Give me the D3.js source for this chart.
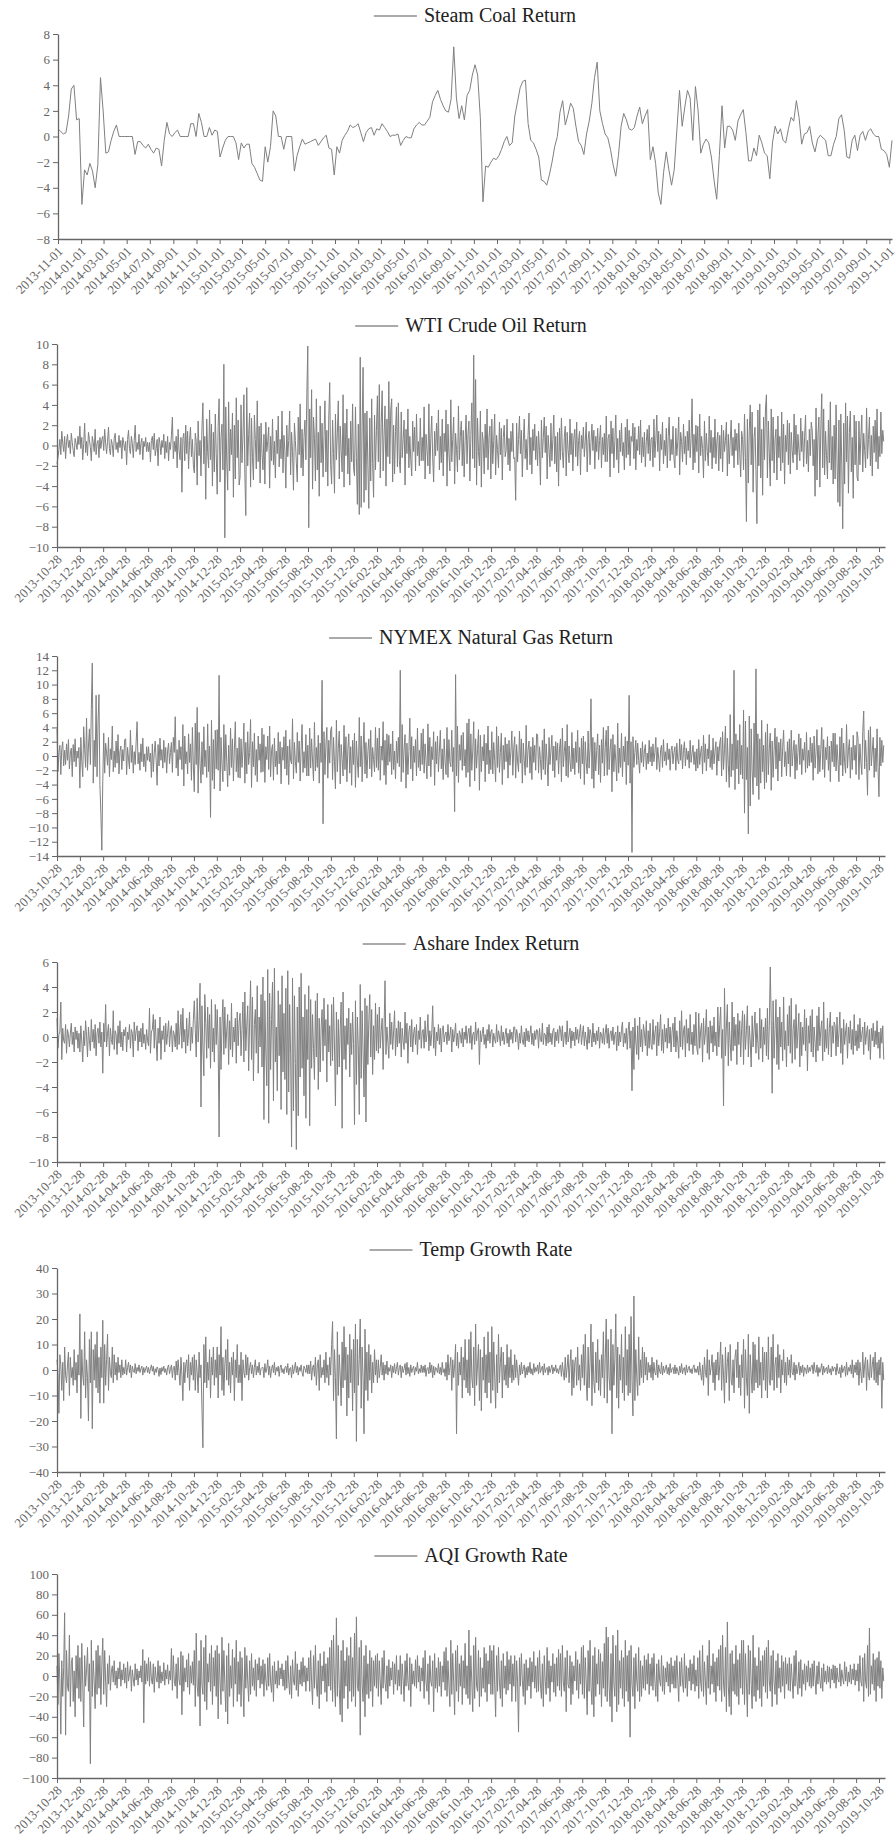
<!DOCTYPE html>
<html>
<head>
<meta charset="utf-8">
<script src="https://cdn.jsdelivr.net/npm/d3@7"></script>
<style>
  body { margin: 0; background: #fff; }
  text { font-family: "Liberation Serif", "Times New Roman", serif; }
</style>
</head>
<body>
<script>
// ---- data ----
var titles = ["Steam Coal Return", "WTI Crude Oil Return", "NYMEX Natural Gas Return",
  "Ashare Index Return", "Temp Growth Rate", "AQI Growth Rate"];
var yMins = [-8, -10, -14, -10, -40, -100];
var yMaxs = [8, 10, 14, 6, 40, 100];
var ySteps = [2, 2, 2, 2, 10, 20];

// weekly, from 2013-11-01
var coalValues = [
  0.6,0.4,0.2,0.3,1.6,3.7,4.0,1.3,1.4,-5.3,
  -2.6,-3.0,-2.1,-2.7,-4.0,-2.2,4.6,2.0,-1.3,-1.2,
  -0.3,0.4,0.9,0,0,0,0,0,0,-1.4,
  -0.4,-0.4,-0.7,-0.9,-0.6,-1.0,-1.3,-0.9,-1.0,-2.3,
  -0.3,1.1,0.2,0,0.3,0.5,0,0,0,0,
  1.0,1.0,0,1.8,1.1,0,0,0.7,0.1,0.5,
  0.4,-1.6,-0.9,-0.3,0,0,0,-0.5,-1.8,-0.5,
  -0.9,-0.6,-0.6,-2.1,-2.4,-2.9,-3.4,-3.5,-0.8,-2.0,
  -0.8,2.0,1.6,0,0,-1.0,0,0,0,-2.7,
  -1.5,-0.8,-0.2,-0.6,-0.5,-0.4,-0.3,-0.2,-0.7,-0.4,
  -0.1,0.1,-0.9,-1.0,-3.0,-0.8,-1.3,-0.3,0.1,0.4,
  0.9,0.7,0.8,1.0,0.3,-0.4,0.3,0.6,0.7,0.1,
  0.6,0.5,1.0,0.7,0.4,0,0.1,0.1,0.2,-0.7,
  -0.3,0,-0.1,-0.1,0.6,0.9,1.1,0.9,0.9,1.2,
  1.5,2.7,3.2,3.6,2.9,2.4,2.0,1.9,2.9,7.0,
  3.0,1.4,2.4,1.3,3.2,3.6,4.8,5.6,4.8,1.5,
  -5.1,-2.3,-2.4,-2.0,-1.7,-1.8,-1.5,-1.0,-0.4,0,
  -0.7,-0.5,1.6,2.7,3.8,4.3,4.4,1.0,-0.3,-0.5,
  -1.0,-1.6,-3.4,-3.5,-3.8,-3.0,-2.0,-0.8,0,1.9,
  2.8,0.9,1.7,2.6,2.2,0.8,-0.4,-0.7,-1.4,0.2,
  1.2,2.6,4.6,5.8,2.0,1.0,0.2,-0.1,-1.0,-2.2,
  -3.1,-1.5,0.8,1.8,1.3,0.6,0.5,0.7,1.6,2.3,
  1.0,1.6,2.1,-1.8,-0.8,-2.1,-4.4,-5.3,-2.8,-1.2,
  -2.6,-3.8,-2.6,0.5,3.6,0.8,2.3,3.6,3.0,-0.3,
  3.9,2.0,-1.3,-0.6,-0.2,-0.5,-1.6,-3.4,-4.9,-1.5,
  2.4,-0.9,0.8,0.8,0.5,-0.3,1.2,1.7,2.1,0.3,
  -1.9,-1.9,-0.9,-1.5,0.1,-0.5,-1.3,-1.5,-3.3,-0.5,
  0.8,0.2,0.6,-0.3,-0.5,0.6,1.5,1.2,2.8,1.5,
  -0.6,0.2,0.3,0.8,-0.5,-1.2,-0.2,0.1,-0.1,-0.3,
  -1.5,-1.5,-0.6,0,1.4,1.7,0.5,-1.6,-1.7,-0.3,
  0.1,-1.1,0.1,0.4,-0.3,0.4,0.6,0.2,0,0,
  -1.0,-1.1,-1.4,-2.4,-0.3
];

// sampled every ~2.5 days from 2013-10-28, one row per two-month tick interval
var wtiValues = [
  -1.8,-1.2,-0.4,0.6,-0.9,1.4,0.2,-0.6,0.9,-1.3,0.4,1.1,-0.2,0.5,-0.8,1.2,0.3,-0.5,-1.1,0.7,0.2,-0.4,0.9,0.1,
  1.9,-0.3,0.8,-1.4,0.2,2.2,-0.7,0.4,-1.0,1.3,0.6,-0.2,-1.5,0.9,0.3,-0.6,1.6,-0.9,0.2,0.5,-1.2,0.8,-0.3,0.6,
  0.9,-0.5,1.6,0.2,-0.8,0.4,1.8,-0.3,-0.9,0.6,0.1,-1.1,0.7,1.2,-0.4,0.3,-0.7,1.0,-0.2,0.5,-1.3,0.8,0.2,-0.5,
  0.4,-1.9,0.6,1.5,-0.3,-0.8,0.9,0.2,-1.2,0.5,2.0,-0.6,0.3,-0.4,1.1,-0.9,0.2,0.7,-1.4,0.4,-0.1,0.8,-0.6,0.3,
  -0.6,0.3,-1.6,0.5,0.9,-0.4,1.2,-1.0,-0.3,0.6,-2.0,0.8,0.2,-0.9,0.5,-0.2,1.1,-1.3,0.4,-0.7,0.9,-1.5,0.3,-0.4,
  1.0,2.8,-1.3,0.4,-0.6,0.9,-2.2,1.6,-0.5,-1.4,0.8,-4.6,0.7,1.2,-1.5,2.0,-0.8,1.4,-2.3,0.5,1.8,-1.1,0.6,-1.9,
  -2.7,1.2,0.4,-3.9,2.4,-1.0,0.5,-3.0,1.7,4.2,-1.8,0.9,-5.3,2.6,-0.7,-2.2,3.5,-1.4,2.1,-4.0,1.3,-2.6,3.1,-0.8,
  -4.8,1.9,4.6,-3.6,0.8,2.1,-2.4,8.0,-9.1,3.8,-1.5,-4.4,4.3,-2.5,1.6,-0.9,3.2,-5.1,2.0,-3.3,4.7,-1.2,2.5,-3.9,
  -3.1,4.0,-1.7,0.9,5.0,-2.8,-6.9,5.7,-2.0,1.1,3.2,-4.1,2.7,-1.2,-3.4,3.0,0.6,-2.3,4.4,-1.6,1.9,-3.7,2.2,-0.8,
  -2.4,1.1,-3.8,2.3,-0.6,0.4,1.8,-4.2,0.9,-1.5,2.6,-1.9,0.4,-3.2,1.5,-0.8,2.9,-2.1,0.6,-1.3,3.4,-2.7,1.0,-0.5,
  -4.2,2.0,-1.1,0.5,3.4,-2.9,1.3,-0.6,-4.4,2.2,0.5,-1.7,-3.6,2.8,-0.9,4.1,-2.2,1.6,-3.0,0.8,2.5,-1.4,5.0,9.8,
  -8.1,3.6,-1.2,5.5,-4.3,2.8,0.7,-3.5,4.6,-2.4,1.3,-5.0,3.9,-1.7,2.2,-3.1,0.9,4.4,-2.6,1.5,-4.0,2.7,6.2,-1.9,
  -3.8,2.5,-0.8,-4.7,3.1,-1.4,1.2,4.4,-3.3,1.9,-0.5,-2.6,5.0,-4.1,2.2,-1.0,3.6,-2.8,0.7,-3.9,2.4,-1.6,4.1,-2.2,
  -3.0,3.8,-1.2,-5.8,2.1,-6.8,8.7,-6.1,1.9,7.7,-5.6,3.2,-4.4,3.4,-2.0,-6.2,2.7,-3.5,4.6,-1.8,-5.1,3.0,-2.4,1.5,
  4.9,-1.6,6.0,-3.2,2.2,5.4,-2.5,1.0,3.9,-4.0,2.6,-1.1,6.3,-1.8,3.5,4.6,-3.6,2.0,-2.8,1.4,3.8,-2.1,4.2,-1.5,
  -2.7,3.3,-1.2,0.6,2.5,-3.9,1.6,-0.8,3.6,-2.2,0.9,-1.4,-3.0,2.4,-0.6,1.8,-2.5,3.1,-1.0,0.4,-2.0,2.7,-1.5,0.8,
  -1.5,3.8,-3.3,1.1,-0.4,-2.0,4.1,-2.8,0.7,2.9,-1.2,-3.6,1.4,-1.0,2.2,-0.5,3.5,-2.4,0.9,-1.7,2.6,-3.0,1.2,-0.6,
  3.5,-4.0,2.1,-0.8,-2.5,4.5,-1.6,0.6,2.8,-3.8,1.2,-0.4,-2.6,3.9,-1.4,0.9,2.4,-2.0,1.5,-3.1,0.5,3.0,-1.8,1.1,
  2.4,-3.5,1.0,4.2,-1.3,8.9,-2.2,6.5,-3.9,2.7,-0.6,-2.0,3.4,-4.1,1.3,0.4,-2.8,2.1,-1.2,3.6,-2.4,0.8,1.9,-3.3,
  2.6,-1.8,0.5,3.1,-2.9,1.0,-0.4,-2.2,2.3,-0.9,1.7,-3.4,0.8,2.0,-1.1,-0.5,2.6,-1.9,0.7,-2.5,1.4,-0.6,2.2,-1.3,
  -1.2,-5.4,2.2,-1.6,0.6,2.9,-0.8,1.5,-3.1,0.4,2.6,-1.3,0.6,-2.4,1.0,3.2,-1.9,0.8,-2.8,1.6,-0.5,2.1,-1.4,0.9,
  -2.0,1.4,-0.5,-3.9,2.5,-1.2,0.8,2.8,-0.7,1.9,-3.3,1.0,-0.4,-2.1,2.2,-1.5,0.6,3.0,-1.8,0.9,-2.6,1.3,-4.0,1.7,
  -1.4,2.7,-0.6,-2.2,0.8,1.9,-3.0,1.3,-0.4,-1.7,2.6,-0.9,1.2,-2.5,0.7,1.6,-1.1,2.3,-2.0,0.5,1.4,-2.9,1.0,-0.3,
  1.8,-1.1,0.4,2.3,-2.6,0.6,1.4,-1.9,0.3,2.1,-0.5,1.5,-2.3,0.9,-0.6,1.7,-1.4,0.5,2.0,-2.2,0.8,-0.9,1.2,-1.6,
  2.9,-1.6,0.7,1.1,-3.1,2.4,-0.8,1.7,-2.2,0.5,3.0,-1.4,0.7,-2.7,1.5,-0.6,2.2,-1.0,0.3,-2.4,1.8,-1.2,2.6,-0.9,
  1.5,-2.0,0.9,0.4,2.2,-1.3,1.8,-2.4,0.6,-0.5,1.9,-0.9,2.5,-1.7,0.8,-1.1,1.3,-2.1,0.4,1.6,-0.8,2.0,-1.5,0.6,
  0.8,-2.1,2.6,-1.2,0.5,3.0,-0.6,1.4,-2.5,1.1,-0.4,2.3,-1.8,0.5,-1.0,1.7,-2.2,0.9,2.8,-1.5,0.6,-0.9,1.9,-1.3,
  -2.2,1.7,-1.0,0.4,2.8,-2.9,1.3,0.4,-1.6,2.1,-0.8,0.9,-1.9,1.4,-0.5,2.5,-1.2,0.7,4.6,-2.4,1.1,-1.7,2.0,-0.6,
  1.9,-2.7,3.1,-1.0,0.9,-0.3,-3.2,2.4,-1.5,1.2,-0.6,-2.0,2.9,-0.7,1.5,-2.3,0.8,-1.2,2.6,-1.8,0.4,1.3,-2.5,1.0,
  -1.3,2.0,-2.6,1.5,-0.6,0.5,2.3,-3.0,1.1,-1.8,0.4,2.5,-1.0,0.8,-2.2,1.6,-0.5,1.2,-1.9,2.2,-0.8,-3.1,1.4,0.6,
  -2.4,3.1,-1.2,-7.5,2.6,-3.7,1.5,4.0,-1.9,3.3,-4.6,0.8,1.8,-2.5,-7.7,3.5,-2.0,4.1,-3.2,1.6,-4.9,2.8,-1.4,3.7,
  5.0,-3.2,2.4,-0.7,-4.0,3.6,-1.5,2.8,-2.7,0.6,1.6,-3.4,2.9,-1.2,0.9,-2.5,3.3,-1.7,2.1,-3.8,1.0,-0.6,2.5,-1.9,
  2.2,-2.8,1.3,-0.5,-1.7,3.1,-0.9,2.0,-2.4,1.1,-0.4,-1.5,2.7,-0.6,1.4,-2.1,0.8,3.0,-1.8,0.5,-2.6,1.6,-1.0,2.3,
  1.5,-2.0,0.6,-5.0,3.7,-3.4,1.1,2.8,-4.1,1.6,5.1,-2.2,3.6,-2.9,1.4,-1.0,-3.3,2.5,-1.7,4.3,-2.4,0.9,-3.8,2.0,
  -3.3,4.0,-1.5,-5.6,2.5,-6.0,3.1,-2.0,-8.2,2.2,-3.8,4.2,-1.6,2.9,-4.7,1.3,3.4,-2.6,0.8,-5.2,3.0,-1.9,2.4,-3.1,
  -3.5,2.4,-1.9,0.8,3.0,-2.6,1.2,-0.5,-2.2,3.7,-1.3,0.6,2.8,-2.0,1.0,-3.0,1.9,-0.7,2.5,-1.6,3.6,-2.3,0.9,-1.1,
  3.3,-0.8,1.5,0.4
];

var gasValues = [
  3.8,-2.2,0.5,1.5,-2.6,1.0,2.0,-1.4,0.8,-1.2,1.7,-0.6,2.3,-1.8,0.4,1.1,-2.9,1.6,-0.8,2.4,-1.5,0.7,-0.3,1.2,
  -4.5,2.6,-0.8,-2.9,4.1,0.9,-1.6,5.3,-2.0,1.4,3.8,-1.2,6.5,13.0,-3.8,2.2,-1.5,8.5,-2.9,4.6,8.6,-4.0,-8.0,-13.2,
  -3.6,3.2,-2.4,1.8,0.4,-1.3,2.6,-2.9,1.0,-0.5,4.2,-2.2,0.7,-1.6,2.1,-1.0,3.0,-2.5,0.6,1.4,-1.9,0.9,-0.7,2.3,
  2.4,-2.6,1.2,-0.4,-1.8,3.6,-0.9,1.5,-2.4,0.6,-1.2,2.0,4.8,-1.1,0.5,-2.0,1.7,-0.8,2.5,-1.5,0.3,-2.2,1.3,-0.6,
  1.3,-0.8,0.4,-3.0,1.7,-2.2,0.4,2.1,-0.6,-4.1,1.6,-1.4,2.5,-0.6,0.9,-1.7,2.2,-0.9,1.2,-2.4,0.7,1.8,-1.1,0.5,
  1.9,-2.3,2.6,0.5,5.5,-1.7,0.9,-2.8,2.2,-0.5,1.3,-1.9,4.4,-4.2,2.8,-1.1,0.6,-2.5,3.1,-0.9,1.7,-3.4,4.0,-1.4,
  -5.0,4.6,-1.2,6.8,-5.2,3.3,-1.0,-3.8,2.0,-2.6,4.1,-1.5,0.8,-3.0,4.5,-2.2,1.4,-8.6,5.0,-3.4,2.3,-4.6,3.6,-1.8,
  3.7,-2.0,11.3,-4.9,2.6,-1.2,-3.6,4.4,-2.1,3.0,-0.8,-4.3,1.5,-2.7,3.9,-1.6,2.4,-3.5,0.9,4.8,-2.2,1.1,-3.0,2.6,
  -3.1,2.4,-1.6,0.7,4.6,-3.8,1.9,-2.5,3.4,-1.2,0.5,5.1,-4.4,2.0,-1.5,3.2,-2.7,0.9,-3.6,2.8,-0.6,1.7,-2.3,3.9,
  -2.2,3.0,-3.7,1.3,-0.5,2.8,-1.9,4.2,-2.9,0.8,1.6,-3.4,2.5,-1.5,0.7,-2.6,3.3,-1.1,2.0,-3.9,1.2,-0.6,2.7,-1.8,
  3.6,-2.7,1.4,-4.0,2.3,-0.6,-1.1,5.2,-3.2,1.9,-0.8,-2.4,3.3,-0.9,2.1,-3.5,1.0,4.4,-2.3,0.6,-1.7,3.0,-2.8,1.5,
  -2.8,3.9,-1.7,2.4,-0.7,-3.5,4.7,-2.1,1.2,-1.6,2.9,-3.8,1.8,-0.9,10.6,-9.5,3.4,-2.6,1.5,4.0,-3.1,2.2,-1.0,3.6,
  4.1,-3.3,2.6,-0.8,-4.6,5.0,-2.2,1.1,3.5,-3.9,1.6,-0.5,-2.8,4.3,-1.9,2.7,-3.6,0.9,3.1,-2.4,1.3,-4.1,2.2,-1.2,
  3.2,-4.4,2.1,-0.7,-3.0,5.4,-1.5,2.8,-3.6,0.8,4.7,-2.5,1.9,-3.1,0.6,2.4,-1.8,3.6,-2.9,1.2,-0.5,-2.2,4.0,-1.6,
  2.5,-2.0,3.9,-3.4,1.4,-0.6,4.8,-2.7,2.2,-4.0,3.1,-1.3,2.9,-0.8,1.7,-2.6,3.5,-1.9,0.7,-3.2,2.1,-1.0,2.6,-1.5,
  12.0,-3.6,4.4,-2.3,1.0,3.0,-4.5,1.8,-2.6,0.6,5.3,-1.8,2.7,-3.5,1.4,-0.9,2.3,-2.8,3.9,-1.6,0.8,-2.1,3.2,-1.2,
  3.8,-2.4,1.7,-0.6,-3.2,4.5,-1.4,2.6,-2.9,1.3,-0.5,3.4,-4.1,2.0,-1.1,2.8,-2.2,0.7,3.6,-1.8,1.0,-3.3,2.4,-0.8,
  -2.6,4.0,-3.0,2.3,-0.8,-1.5,3.6,-2.2,1.2,-7.8,11.4,-2.8,4.2,-3.7,1.6,-0.6,2.9,-2.0,3.3,-1.4,0.9,-3.0,4.6,-2.3,
  5.2,-4.3,3.1,-2.0,0.7,4.8,-3.5,2.4,-1.7,0.9,3.7,-4.8,2.9,-2.2,1.3,-0.7,3.0,-3.6,1.8,-1.2,4.2,-2.5,0.8,-1.9,
  3.4,-2.5,1.9,-0.6,-3.6,4.1,-1.6,2.8,-2.3,0.5,3.2,-4.0,1.5,-1.9,2.6,-0.8,1.7,-3.1,2.2,-1.3,0.6,3.5,-2.7,1.1,
  2.7,-3.1,1.6,-0.7,-2.2,3.5,-1.0,2.4,-3.8,1.8,-0.6,-2.7,4.3,-1.6,0.8,2.1,-2.4,1.3,-3.3,2.6,-0.9,1.5,-2.0,3.1,
  3.0,-2.4,1.3,-0.5,-3.3,2.2,-1.9,3.8,-2.6,1.7,-0.8,-4.2,2.6,-1.2,0.7,2.9,-2.1,1.4,-3.0,2.0,-0.6,1.8,-2.5,1.0,
  2.4,-3.6,3.9,-1.5,0.6,2.1,-2.8,4.4,-3.0,1.4,-0.7,-2.2,3.3,-1.8,1.1,-2.6,2.0,-0.9,3.6,-2.4,1.2,-3.2,2.5,-1.1,
  2.8,-4.0,2.0,-0.9,-2.5,3.5,-1.7,1.0,8.0,-3.2,2.6,-4.5,1.9,-2.1,0.8,3.1,-2.6,1.5,-3.7,2.3,-1.0,4.0,-2.8,1.2,
  3.6,-2.7,4.2,-1.9,0.8,2.4,-5.0,3.0,-2.2,1.6,-0.7,-3.5,4.6,-2.4,1.1,-1.6,3.2,-2.9,1.4,-0.8,2.7,-4.0,2.1,-1.3,
  8.5,-3.8,2.0,-13.5,2.7,-1.6,0.5,2.2,-1.2,1.8,-0.6,-2.4,1.1,-0.9,2.0,-1.5,0.7,1.6,-1.9,0.4,-1.1,2.2,-0.8,1.3,
  -1.4,1.7,-0.8,0.5,2.6,-1.9,1.2,-0.4,-2.2,0.9,1.5,-1.6,2.3,-0.7,0.6,-1.3,1.8,-0.5,1.0,-2.0,0.8,1.4,-1.1,0.5,
  1.3,-2.0,1.8,-0.6,-1.1,2.4,-0.6,1.6,-1.8,0.8,2.0,-1.4,1.1,-0.5,0.7,-1.7,2.2,-0.9,0.4,1.5,-1.2,0.6,-2.1,1.0,
  -1.7,2.3,-1.2,0.5,1.4,-2.5,2.9,-0.9,1.7,-2.1,1.0,-0.4,3.0,-1.6,0.8,-1.9,2.5,-1.1,0.6,2.0,-2.7,1.3,-0.7,1.8,
  2.6,-2.8,3.4,-1.9,0.9,4.2,-3.6,2.5,-1.2,-4.4,5.8,-2.9,1.7,-2.0,12.0,-4.7,3.1,-1.8,2.2,-3.9,4.4,-2.6,1.5,-3.2,
  6.4,-8.0,4.9,-3.3,1.2,-10.9,5.6,-7.0,3.8,-2.1,-5.4,4.6,-3.0,12.2,-4.2,3.1,-6.1,2.4,-3.8,5.0,-2.2,1.5,-4.6,3.3,
  -3.7,4.5,-2.6,1.0,3.2,-4.8,2.1,-3.0,0.8,3.9,-1.8,2.7,-3.5,1.9,-0.7,2.4,-2.9,1.2,3.6,-1.5,0.6,-2.8,2.0,-1.1,
  2.4,-2.9,3.6,-1.4,0.7,2.2,-3.2,1.6,-2.0,0.5,3.1,-1.2,2.5,-2.6,1.0,-0.6,1.9,-2.3,3.3,-1.7,0.8,-1.4,2.6,-0.9,
  1.8,-3.4,2.8,-1.7,0.6,3.7,-2.5,1.5,-2.2,0.9,4.0,-1.9,2.3,-3.0,1.2,-0.5,2.7,-2.0,1.4,-3.6,2.1,-0.8,3.2,-1.5,
  3.2,-2.1,1.6,-0.7,-3.6,2.7,-1.3,3.9,-2.8,1.8,-0.9,-2.4,4.4,-1.7,0.8,2.3,-3.1,1.2,-1.9,2.9,-0.6,1.5,-2.6,3.4,
  2.5,-3.3,1.7,-0.8,-2.6,3.4,6.3,-1.8,2.2,-0.9,-5.5,3.6,-2.0,4.1,-1.4,0.7,2.6,-3.0,1.1,-2.2,3.8,-1.6,-5.7,2.6,
  -1.4,2.2,-0.9,1.5
];

var ashareValues = [
  1.5,-0.9,0.2,0.4,2.8,-1.8,0.7,-0.3,-0.5,1.0,-1.3,0.6,0.2,-0.8,0.3,1.1,-0.6,0.4,-1.2,0.8,-0.2,0.5,-0.9,0.3,
  -1.2,0.9,-0.4,-2.0,0.5,-0.7,1.3,0.1,-1.6,0.8,-0.3,-1.1,1.4,-0.4,0.6,-0.9,1.0,-1.5,0.3,0.7,-0.5,1.2,-0.8,0.4,
  -2.9,1.1,-0.4,2.6,-0.8,0.3,1.0,-1.5,0.7,-0.2,-0.6,2.1,-1.0,0.5,0.2,-1.4,0.9,-0.5,1.3,-0.8,0.4,-1.1,0.6,0.1,
  0.8,-1.2,0.4,-0.2,1.0,-0.9,0.6,0.3,-1.6,1.2,-0.3,0.5,0.9,-1.1,0.5,-0.4,0.7,-0.8,1.1,-0.5,0.2,-1.0,0.6,-0.3,
  -0.7,2.3,-1.3,0.4,0.6,1.8,-0.9,1.4,-0.3,-1.9,0.7,-0.5,1.6,-1.8,0.5,-0.2,0.9,-1.2,1.1,-0.6,0.3,1.3,-0.8,0.4,
  0.9,-1.2,0.5,0.2,-0.8,1.1,-1.0,2.1,-0.6,0.4,1.8,-0.9,2.3,-0.4,0.6,-1.3,1.5,-0.7,0.3,2.0,-1.1,0.8,-0.5,1.4,
  2.9,0.6,-1.6,3.1,-0.4,1.2,4.3,-5.6,2.5,-0.8,-3.1,3.4,1.1,-1.7,2.4,-0.9,1.8,-2.5,3.0,-1.2,0.7,-2.0,2.6,-0.6,
  2.2,-0.5,-8.0,1.6,-2.6,0.9,3.0,-1.4,2.4,-0.9,0.5,1.8,-2.2,1.3,-1.0,2.7,-1.6,0.8,-0.4,1.5,-2.1,2.0,-0.7,1.2,
  1.9,-1.5,0.6,2.8,-2.0,3.6,-1.1,0.9,2.5,-2.7,1.2,4.5,-1.8,3.2,-3.5,1.0,2.2,-1.3,4.1,-2.9,1.6,-0.8,3.4,-2.4,
  4.8,-6.6,2.9,-1.2,-3.9,5.4,-6.9,3.5,-2.6,1.4,4.4,-5.1,5.5,-2.0,0.8,-4.3,3.7,-1.5,2.6,-5.8,4.9,-2.8,1.9,-3.4,
  3.9,-6.2,5.3,-4.4,2.6,-1.3,-8.8,4.7,-5.9,3.3,-2.1,-9.0,2.4,-6.3,4.0,-3.2,5.1,-2.5,1.6,-4.7,3.4,-6.5,2.2,-1.8,
  4.1,-7.1,3.0,-2.5,1.8,-0.9,-3.4,2.9,-1.6,3.5,-4.2,1.5,-2.8,0.8,2.2,-1.9,3.1,-0.7,1.4,-3.6,2.6,-1.2,0.9,-2.3,
  2.6,-1.9,3.2,-0.8,-5.5,2.0,-3.0,1.4,-2.4,0.7,2.8,-7.3,3.6,-1.8,0.9,-2.6,1.5,-0.6,2.3,-3.2,1.1,-1.4,2.0,-0.5,
  -7.0,2.9,-3.8,1.6,-0.8,-6.2,4.2,-3.3,2.1,-1.2,-4.8,3.1,-6.8,2.5,-2.2,1.3,3.4,-1.6,2.2,-3.0,0.9,-1.8,2.7,-1.1,
  1.8,-1.3,2.4,-0.9,0.5,1.5,-2.6,0.8,4.5,-1.4,0.8,-0.4,-1.7,1.9,-0.6,1.2,-1.0,0.4,2.1,-1.5,0.7,-0.8,1.3,-0.5,
  1.2,-1.6,0.7,-0.3,-1.0,2.0,-0.5,1.1,-2.1,0.4,0.9,-0.8,1.4,-1.2,0.3,0.8,-0.6,1.0,-1.4,0.5,-0.2,1.6,-0.9,0.4,
  0.6,-0.9,1.3,-0.4,0.2,1.8,-1.1,0.5,-0.7,0.3,2.5,-0.9,0.8,-1.5,0.4,-0.3,1.0,-0.6,0.7,-1.2,0.5,0.9,-0.4,0.2,
  0.4,-0.6,1.0,-0.3,0.1,0.8,-1.2,0.6,-0.4,0.2,1.1,-0.7,0.3,-0.9,0.5,0.2,-0.5,0.7,-0.8,0.4,-0.2,0.9,-0.5,0.3,
  0.7,-0.5,0.9,-1.0,0.2,0.4,-0.6,1.2,-0.3,0.5,0.7,-2.2,0.5,-0.4,0.3,0.8,-0.6,0.2,-0.9,0.6,-0.3,1.0,-0.5,0.4,
  0.6,-0.8,0.3,-0.2,-0.5,1.0,-0.4,0.5,0.1,-0.7,0.9,-0.3,0.4,-0.6,0.2,0.7,-0.5,0.3,-0.8,0.6,-0.2,0.4,-0.5,0.8,
  0.8,-0.4,0.6,0.1,-1.0,0.3,-0.5,0.9,-0.2,-0.6,0.4,-0.8,0.7,-0.3,0.5,-0.4,0.2,0.9,-0.6,0.3,-0.7,0.5,-0.2,0.6,
  0.5,-0.9,0.7,-0.2,-0.4,1.1,-0.6,0.3,0.2,-0.7,0.8,-0.5,1.0,-0.4,0.3,-0.6,0.5,0.7,-0.8,0.4,-0.3,0.6,-0.5,0.9,
  0.6,-0.3,0.9,-0.8,0.2,0.4,-0.6,1.3,-0.4,0.1,0.7,-0.9,0.5,-0.3,0.4,-0.7,0.8,-0.2,0.6,-0.5,0.3,1.0,-0.6,0.2,
  0.9,-0.7,0.4,-0.2,-1.0,0.8,-0.5,0.6,0.2,-0.8,1.1,-0.4,0.3,-0.6,0.5,-0.3,0.8,-0.9,0.4,0.2,-0.5,0.7,-0.6,0.3,
  1.0,-0.5,0.7,-0.9,0.3,0.5,-0.3,0.8,-0.6,0.2,0.4,-1.1,0.9,-0.7,0.4,-0.4,0.6,1.2,-0.8,0.3,-0.5,0.7,-1.0,0.5,
  1.2,-0.9,0.5,-4.3,0.8,-2.6,1.5,-0.4,-1.4,0.9,-1.8,1.6,-0.8,0.6,-1.2,1.0,0.3,-0.7,1.3,-1.5,0.5,-0.9,1.1,-0.6,
  -1.0,1.4,-0.6,0.3,0.9,-1.5,1.2,-0.7,0.4,1.8,-1.1,0.6,-1.3,1.0,-0.4,0.7,-0.9,1.5,-0.5,0.8,-1.2,0.4,1.1,-0.8,
  1.6,-1.2,0.5,-0.4,-1.7,1.3,-0.8,2.1,-1.0,0.5,0.9,-1.6,1.4,-0.5,0.7,-1.1,1.8,-0.6,0.4,-1.4,1.0,-0.7,2.0,-0.9,
  -1.4,1.9,-0.9,0.5,1.1,-2.0,1.5,-0.6,0.3,2.2,-1.3,0.8,-1.8,1.3,-0.5,0.9,-1.2,1.6,-0.7,0.4,-1.5,2.4,-0.8,1.0,
  2.4,-1.7,0.6,-5.5,3.9,-1.5,0.8,2.6,-2.3,1.2,-0.5,-1.9,2.8,-1.1,1.6,-0.7,1.0,-2.2,1.9,-0.6,1.3,-1.6,0.7,2.1,
  -2.2,1.8,-1.0,0.5,2.5,-1.6,0.9,-0.4,-2.4,1.7,-0.8,0.6,2.0,-1.3,1.1,-0.5,-1.8,2.3,-0.9,1.4,-2.0,0.8,-0.6,1.5,
  -1.5,2.3,-1.8,0.9,5.6,1.4,-4.5,2.9,-1.7,0.6,3.0,-2.2,1.6,-2.6,2.4,-0.8,1.2,-1.9,3.2,-1.0,0.5,-2.4,1.8,-0.7,
  2.5,-1.3,3.1,-2.1,0.6,1.4,-1.8,2.6,-0.9,0.4,1.9,-2.4,1.2,-1.5,0.8,-0.6,2.2,-1.1,1.5,-2.7,0.9,-0.5,1.7,-1.2,
  2.2,-1.6,0.8,-0.4,-2.0,1.7,-1.1,2.4,-0.7,0.5,1.3,-1.9,2.8,-1.2,0.6,-0.9,1.5,-1.4,0.7,2.0,-1.6,0.9,-0.5,1.2,
  0.9,-1.5,1.6,-0.8,0.3,2.0,-1.3,0.7,-2.2,1.4,-0.6,0.4,1.1,-1.7,0.8,-0.5,1.3,-1.0,0.6,-1.4,1.8,-0.7,0.5,-1.1,
  1.0,-0.9,1.5,-0.4,0.2,0.8,-1.4,1.2,-0.6,0.3,0.9,-1.1,0.6,-1.8,0.7,-0.3,1.1,-0.8,0.5,-0.6,1.3,-0.9,0.4,-1.7,
  0.7,-0.5,0.9,-1.8
];

var tempValues = [
  4,-1,-17,6,2,-8,3,-12,9,-2,-5,2,7,-10,5,-3,1,-6,8,-4,3,-9,6,-2,
  22,-19,8,-2,-6,15,-11,4,-3,-20,12,-5,15,-23,8,-4,10,-7,15,-9,5,-13,9,-3,
  19.5,-13,10,-6,4,14,-8,5,-1,-3,9,-5,6,-2,3,-4,5,-1,2,-3,4,-2,1,-1.5,
  4,-2,1,3,-1,2,-3,1.5,-0.5,-1,2.5,-1.5,1,-0.5,2,-1,0.5,1.5,-2,1,-1,0.5,1.5,-1,
  1,-1.5,0.5,2,-0.5,1.5,-2,0.5,-1,1.2,0.3,-2.5,0.8,-1.8,1,-0.5,1.5,-1,0.5,-2,1,2,-1.5,0.5,
  2,-3,1,1.5,-4,3.5,-2,4,-1,-6,5,-2,-12,3,-5,2,4,-3,6,-8,3,-2,5,-4,
  6,-8,4,-1,-9,7,-3,2,-15,-30.5,10,-5,13,-7,3,-4,8,-11,5,-2,9,-6,4,-3,
  9,-11,6,-2,17,-8,5,-10,2,8,-4,12,-6,3,-9,5,-2,7,-12,4,-3,10,-5,2,
  -5,7,-12,4,-1,-3,6,-2,5,-4,1,3,-1.5,2,-3,1,4,-2,1.5,-1,3,-2,0.5,1,
  1,-3,2.5,-1,0.5,4,-2,1.5,-3,0.5,2,-1,3,-2,1,-0.5,1.5,-2.5,1,2,-1,0.5,-1.5,1,
  1.5,-1,2.5,-2,0.5,1,-3,2,-1.5,0.5,3,-1,1.5,-2,1,-0.5,2,-1,-2.5,1.5,0.5,-1,2,-1.5,
  2,-1.5,3.5,-4,1,2,-2.5,5,-6,2,4,-8,6,-3,1,-2,4,-5,7,-3,2,-6,5,-2,
  10,19,-12,8,-3,-27,15,-10,6,-2,-14,11,-7,17,-4,9,-18,6,-11,14,-5,8,-16,12,
  -9,18,-28,12,-6,4,20,-15,9,-3,-25,16,-8,7,-12,10,-4,6,-9,3,-5,8,-2,4,
  -5,4,-3,1,6,-2,3,-4,2,-1.5,3.5,-2,1,-0.5,2,-3,1.5,-1,2.5,-1.5,0.5,3,-2,1,
  2,-3,1.5,-1,0.5,2.5,-2,3,-1.5,1,-2.5,2,-1,0.5,1.5,-2,1,-0.5,3,-1.5,0.5,-1,2,-1,
  1.5,-1,2,-2.5,0.5,1,-1.5,3,-1,2,-3,1.5,-2,1,0.5,-1,2.5,-1.5,1,-2,3,-1,0.5,-2.5,
  3,-4,6,-2,1,5,-8,4,-3,2,10,-25,7,-6,3,-2,9,-11,5,-4,12,-7,4,-9,
  12,-10,15,-3,-7,9,-14,18,-6,2,10,-12,8,-16,5,-4,13,-9,6,-11,15,-5,7,-13,
  17,-8,11,-2,-15,6,-9,14,-5,3,9,-11,7,-4,2,-6,10,-7,5,-3,8,-5,2,-4,
  6,-3,4,-1,-6,2,-2,3,-1.5,0.5,2,-3,1,-2,1.5,-1,3,-1.5,0.5,-2,2.5,-1,1,-0.5,
  2,-1.5,3,-1,0.5,1.5,-2,2.5,-1,0.5,1,-2,1.5,-1,0.5,2,-1.5,1,-0.5,2,-1,0.5,-1.5,1,
  2,-2.5,3,-1,-4,5,-3,1,6,-5,2,8,-10,4,-7,3,5,-6,9,-4,2,-8,6,-3,
  10,-6,14,-4,-12,9,-7,3,18,-14,11,-5,-9,7,-5,12,-8,4,-10,6,-3,15,-11,5,
  20,-13,12,-3,-8,16,-25,10,-6,4,22,-11,9,-15,6,-4,14,-9,5,-12,17,-6,8,-10,
  14,-9,21,-4,-18,29,-12,8,-3,-10,13,-6,4,-3,9,-5,7,-2,5,-4,3,-1,2,-3,
  5,-4,3,-1,-2,4,-3,2,-0.5,-1.5,3,-2,1.5,-1,0.5,2,-1.5,1,-2,2.5,-1,0.5,1,-1.5,
  2,-1.5,1,-0.5,-2,1.5,-1,2.5,-1.5,0.5,1,-2,2,-1,0.5,1.5,-1,0.5,-1.5,1,2,-1,0.5,-1,
  1.5,-2,3,-1,-4,2,-6,5,-1,-3,8,-10,4,-2,1,6,-5,3,-8,4,-2,7,-4,2,
  11,-8,6,-2,-13,9,-5,3,7,-12,10,-4,-6,4,-9,5,8,-3,11,-7,2,-10,6,-3,
  12,-15,8,-3,-10,14,-17,6,-2,-9,11,-8,10,-5,4,-7,13,-6,3,-11,9,-4,7,-8,
  7,-11,13,-4,-6,9,-4,14,-8,2,5,-7,10,-3,6,-9,4,-2,8,-5,3,-6,5,-2,
  4,-3,6,-1,-2,3,-4,2,-1.5,0.5,3,-2,1.5,-1,2,-2.5,1,0.5,-1.5,2,-1,1,-0.5,1.5,
  2,-1.5,3,-0.5,-1,2,-2.5,1,-1,0.5,2.5,-2,1.5,-1,0.5,1,-1.5,2,-1,0.5,-2,1.5,-0.5,1,
  1,-2,2.5,-0.5,-1.5,1,-3,2,-1,0.5,1.5,-2.5,3,-2,1,-0.5,2,-1.5,4,-3,2,-1,3,-2,
  4,-6,3,-1,-5,7,-3,2,5,-8,4,-2,-4,6,-3,2,5,-4,7,-5,3,-6,4,-2,
  5,-15,3,-4
];

var aqiValues = [
  10,-28,22,-5,-57,15,-20,8,62,-58,25,-10,-15,40,-30,12,18,-25,5,-40,20,-12,30,-22,
  18,-25,32,-8,-50,20,-10,6,28,-15,12,-86,35,-20,15,-5,-32,25,-18,30,-12,20,-28,10,
  37,-18,25,-5,-30,12,-8,20,-14,4,10,-6,15,-9,5,-12,8,-3,14,-10,6,-4,12,-7,
  8,-12,14,-5,2,10,-15,6,-3,-10,12,-4,7,-9,5,-2,10,-6,26,-46,15,-8,12,-5,
  18,-10,14,-3,-8,12,-16,9,-2,-6,15,-12,10,-7,4,-5,13,-9,6,-3,11,-8,5,-4,
  27,-14,20,-5,-10,12,-22,18,-4,-9,24,-38,20,-15,8,-6,16,-11,22,-18,10,-7,14,-9,
  25,-30,42,-10,-20,15,-49,35,-8,-18,28,-25,40,-33,12,-6,22,-15,30,-28,18,-10,25,-20,
  30,-42,22,-5,-28,38,-15,25,-8,-35,20,-47,32,-20,10,-12,26,-30,18,-8,35,-25,14,-18,
  24,-30,18,-6,-40,28,-12,20,-5,-25,15,-18,22,-10,8,-14,16,-20,12,-4,18,-12,10,-8,
  16,-20,12,-4,-14,18,-10,22,-6,-16,10,-25,14,-8,5,-12,15,-9,8,-3,12,-10,6,-14,
  15,-12,20,-4,-18,10,-22,16,-5,-9,24,-14,12,-20,6,-8,14,-10,18,-6,10,-15,8,-5,
  18,-15,25,-6,-28,20,-12,30,-8,-20,15,-32,22,-18,10,-5,24,-16,12,-25,18,-10,28,-14,
  35,-25,40,-8,-30,57,-20,30,-12,-38,25,-45,35,-22,15,-10,28,-32,20,-15,38,-25,18,-20,
  42,-30,58,-10,-15,28,-58,35,-8,-25,20,-40,30,-18,12,-22,25,-15,18,-30,15,-10,20,-12,
  22,-20,15,-5,-28,18,-12,25,-6,-15,10,-22,16,-10,8,-4,14,-18,12,-8,20,-14,6,-10,
  20,-18,12,-4,-25,15,-10,22,-6,-14,18,-30,12,-8,5,-10,16,-12,20,-6,10,-15,8,-5,
  18,-22,25,-6,-15,12,-28,20,-5,-10,15,-35,22,-12,8,-16,18,-10,14,-20,10,-6,24,-14,
  28,-20,15,-8,-30,35,-18,22,-6,-38,25,-15,30,-25,12,-10,20,-28,15,-12,32,-18,10,-22,
  45,-28,20,-6,-35,30,-22,38,-10,-15,25,-30,18,-20,8,-12,28,-16,22,-25,15,-8,30,-18,
  25,-18,30,-8,-40,20,-15,28,-6,-22,15,-30,22,-12,10,-18,24,-14,16,-8,20,-25,12,-10,
  20,-25,15,-5,-55,18,-10,22,-4,-20,12,-28,16,-14,8,-10,18,-22,14,-6,24,-12,10,-16,
  18,-15,25,-8,-22,12,-30,20,-5,-18,28,-12,15,-25,10,-6,22,-16,12,-20,18,-10,26,-14,
  22,-20,30,-6,-15,18,-35,25,-8,-12,20,-28,14,-18,10,-5,24,-14,16,-22,12,-8,28,-18,
  30,-22,18,-5,-38,25,-15,35,-10,-28,20,-40,28,-20,12,-8,26,-18,22,-30,14,-12,32,-20,
  48,-25,38,-10,-30,22,-45,40,-8,-20,30,-35,45,-28,15,-12,25,-22,18,-30,35,-15,20,-25,
  25,-60,30,-8,-20,18,-32,22,-5,-15,28,-25,15,-20,10,-12,20,-14,16,-8,22,-18,12,-10,
  18,-14,22,-5,-20,12,-25,16,-4,-10,20,-15,10,-18,8,-6,14,-10,12,-16,18,-8,10,-12,
  15,-12,20,-4,-25,14,-10,18,-6,-16,22,-12,10,-20,8,-5,16,-14,12,-8,20,-15,6,-10,
  18,-22,25,-6,-15,30,-20,14,-5,-28,20,-12,35,-18,10,-8,22,-16,14,-25,18,-10,26,-14,
  30,-25,40,-8,-20,28,-35,53,-10,-30,22,-38,25,-15,12,-18,30,-20,16,-28,22,-12,35,-18,
  35,-28,22,-6,-40,30,-18,25,-8,-32,40,-20,18,-25,10,-14,28,-22,15,-30,20,-10,25,-16,
  28,-22,35,-5,-15,20,-30,25,-6,-18,15,-28,22,-12,8,-16,20,-10,14,-22,18,-8,12,-14,
  18,-15,12,-4,-22,20,-10,25,-5,-18,14,-12,16,-20,6,-8,12,-14,10,-6,15,-10,8,-12,
  12,-10,15,-3,-18,10,-8,14,-4,-12,8,-15,12,-6,5,-8,10,-6,9,-12,7,-4,11,-7,
  10,-12,8,-3,-6,12,-10,6,-2,-8,14,-5,9,-10,4,-6,11,-8,7,-4,12,-9,6,-5,
  12,-15,20,-5,-10,18,-25,22,-6,-12,30,-20,47,-18,10,-8,22,-14,16,-25,18,-10,24,-12,
  15,-22,8,-5
];

var seriesList = [coalValues, wtiValues, gasValues, ashareValues, tempValues, aqiValues];

// ---- layout ----
var svgWidth = 896;
var svgHeight = 1838;
var panelTops = [34, 344, 656, 962, 1268, 1574];
var panelHeights = [205, 203, 200, 200, 204, 204];

var coalStart = new Date(2013, 10, 1);
var dailyStart = new Date(2013, 9, 28);
var fmt = d3.timeFormat("%Y-%m-%d");

var svg = d3.select("body")
  .append("svg")
  .attr("width", svgWidth)
  .attr("height", svgHeight);

seriesList.forEach(function(values, i) {
  var weekly = (i === 0);
  var left = weekly ? 58 : 57;
  var right = weekly ? 892 : 885;
  var top = panelTops[i];
  var h = panelHeights[i];

  var dates, xScale, tickDates;
  if (weekly) {
    dates = values.map((v, j) => d3.timeDay.offset(coalStart, 7 * j));
    xScale = d3.scaleTime()
      .domain([coalStart, new Date(2019, 10, 8)])
      .range([left, right]);
    tickDates = d3.timeMonth.range(coalStart, new Date(2019, 10, 2), 2);
  } else {
    dates = values.map((v, j) => d3.timeHour.offset(dailyStart, 61 * j));
    xScale = d3.scaleTime()
      .domain([dailyStart, new Date(2019, 10, 13)])
      .range([left, right]);
    tickDates = d3.timeMonth.range(new Date(2013, 9, 1), new Date(2019, 9, 2), 2)
      .map(d => new Date(d.getFullYear(), d.getMonth(), 28));
  }

  var yScale = d3.scaleLinear()
    .domain([yMins[i], yMaxs[i]])
    .range([top + h, top]);

  var data = values.map((v, j) => ({ date: dates[j], value: v }));

  var g = svg.append("g");

  var drawLine = d3.line()
    .x(d => xScale(d.date))
    .y(d => yScale(d.value));

  g.append("path")
    .datum(data)
    .attr("fill", "none")
    .attr("stroke", "#808080")
    .attr("stroke-width", 1)
    .attr("d", drawLine);

  // axes
  var leftAxis = d3.axisLeft(yScale)
    .tickValues(d3.range(yMins[i], yMaxs[i] + ySteps[i] / 2, ySteps[i]))
    .tickSize(5)
    .tickSizeOuter(0)
    .tickPadding(3);

  var yAxisG = g.append("g")
    .attr("transform", `translate(${left}, 0)`)
    .call(leftAxis);

  var bottomAxis = d3.axisBottom(xScale)
    .tickValues(tickDates)
    .tickFormat(fmt)
    .tickSize(5)
    .tickSizeOuter(0);

  var xAxisG = g.append("g")
    .attr("transform", `translate(0, ${top + h})`)
    .call(bottomAxis);

  xAxisG.selectAll("text")
    .attr("x", 0)
    .attr("y", 0)
    .attr("dy", "0.35em")
    .attr("transform", "translate(2, 10) rotate(-45)")
    .style("text-anchor", "end");

  [yAxisG, xAxisG].forEach(function(ax) {
    ax.select(".domain").attr("stroke", "#666").attr("stroke-width", 1.3);
    ax.selectAll(".tick line").attr("stroke", "#666");
    ax.selectAll(".tick text")
      .attr("fill", "#666")
      .style("font-size", "13px")
      .style("font-family", "'Liberation Serif', 'Times New Roman', serif");
  });

  // legend title
  var cx = (left + right) / 2;
  var legend = g.append("g");
  var label = legend.append("text")
    .attr("x", 50)
    .attr("y", top - 12)
    .attr("fill", "#222")
    .style("font-size", "20px")
    .text(titles[i]);
  legend.append("line")
    .attr("x1", 0)
    .attr("x2", 43)
    .attr("y1", top - 18)
    .attr("y2", top - 18)
    .attr("stroke", "#555")
    .attr("stroke-width", 1);
  var totalW = 50 + label.node().getComputedTextLength();
  legend.attr("transform", `translate(${cx - totalW / 2}, 0)`);
});
</script>
</body>
</html>
